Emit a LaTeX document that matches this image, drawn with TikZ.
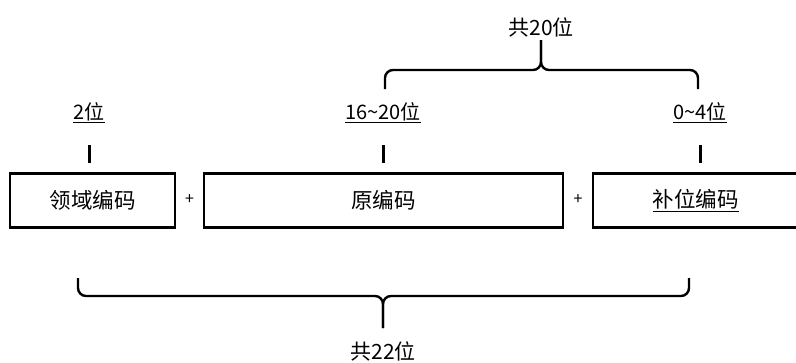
\documentclass[tikz,border=0pt]{standalone}
\usepackage{fontspec}
\setmainfont{Noto Sans CJK SC}
\begin{document}
\begin{tikzpicture}[x=1pt,y=-1pt,
  codebox/.style={draw=black,line width=2.6pt,inner sep=0pt,font=\fontsize{21.5}{22}\selectfont},
  lbl/.style={inner sep=0pt,font=\fontsize{20}{21}\selectfont},
  plus/.style={inner sep=0pt,font=\fontsize{16}{17}\selectfont},
  tick/.style={line width=3pt},
  brace/.style={line width=2.4pt,rounded corners=8pt}]
\useasboundingbox (0,0) rectangle (796,362);
% boxes
\node[codebox,minimum width=165pt,minimum height=54pt] (b1) at (92.5,200.5) {领域编码};
\node[codebox,minimum width=359pt,minimum height=54pt] (b2) at (383.5,200.5) {原编码};
\node[codebox,minimum width=205pt,minimum height=54pt] (b3) at (695.5,200.5) {\underline{补位编码}};
% plus signs
\node[plus] (p1) at (189.5,200) {+};
\node[plus] (p2) at (578,200) {+};
% labels
\node[lbl] (l1) at (89,113) {\underline{2位}};
\node[lbl] (l2) at (383,113) {\underline{16\textasciitilde20位}};
\node[lbl] (l3) at (700,113) {\underline{0\textasciitilde4位}};
% ticks
\coordinate (t1a) at (89,145); \coordinate (t1b) at (89,163);
\coordinate (t2a) at (383,145); \coordinate (t2b) at (383,163);
\coordinate (t3a) at (700,145); \coordinate (t3b) at (700,163);
\draw[tick] (t1a) -- (t1b);
\draw[tick] (t2a) -- (t2b);
\draw[tick] (t3a) -- (t3b);
% top brace
\node[lbl,font=\fontsize{21}{22}\selectfont] (top) at (541,27) {共20位};
\coordinate (tl) at (385,89); \coordinate (tr) at (698,89); \coordinate (tt) at (541,40);
\draw[brace] (tl) |- (541,70) -- (tt);
\draw[brace] (tr) |- (541,70) -- (tt);
% bottom brace
\node[lbl,font=\fontsize{21}{22}\selectfont] (bot) at (383,351) {共22位};
\coordinate (bl) at (78,278); \coordinate (br) at (689,278); \coordinate (bt) at (383,328);
\draw[brace] (bl) |- (383,296) -- (bt);
\draw[brace] (br) |- (383,296) -- (bt);
\end{tikzpicture}
\end{document}
